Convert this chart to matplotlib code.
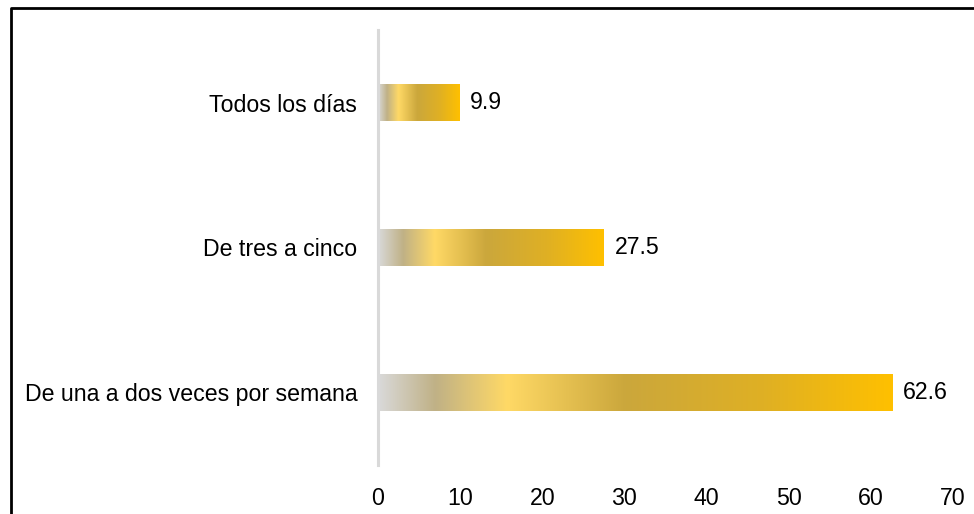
import numpy as np
import matplotlib.pyplot as plt
from matplotlib.colors import LinearSegmentedColormap
from matplotlib.lines import Line2D

plt.rcParams['font.family'] = ['Liberation Sans', 'DejaVu Sans']

# datos
categorias = ['De una a dos veces por semana', 'De tres a cinco', 'Todos los días']
valores = [62.6, 27.5, 9.9]
xticks = [0, 10, 20, 30, 40, 50, 60, 70]

grad = LinearSegmentedColormap.from_list('oro', [
    (0.0, '#d9d9d9'), (0.11, '#c0b186'), (0.25, '#ffd966'),
    (0.48, '#cba73c'), (0.75, '#dfb024'), (1.0, '#ffc000')])

W, H = 974, 514
fig = plt.figure(figsize=(W / 100, H / 100), dpi=100)
ax = fig.add_axes([378 / W, 1 - 465 / H, (953 - 378) / W, (465 - 30) / H])

pos = np.arange(len(categorias))
alto = 0.25
bars = ax.barh(pos, valores, height=alto, color='none', edgecolor='none')
g = np.linspace(0, 1, 256).reshape(1, -1)
for b, v in zip(bars, valores):
    y0 = b.get_y()
    im = ax.imshow(g, cmap=grad, aspect='auto', interpolation='bilinear',
                   extent=(0, v, y0, y0 + alto), zorder=2)
    im.set_clip_path(b)
    ax.text(v + 1.3, b.get_y() + alto / 2, f'{v:.1f}', va='center', ha='left',
            fontsize=16.7, color='black')

ax.set_xlim(0, 70)
ax.set_ylim(-0.5, len(categorias) - 0.5)
ax.set_xticks(xticks)
ax.set_yticks(pos)
ax.set_yticklabels(categorias)
ax.tick_params(axis='both', length=0, labelsize=16.7, colors='black')
ax.tick_params(axis='y', pad=15)
ax.tick_params(axis='x', pad=15.5)
for s in ['top', 'right', 'bottom']:
    ax.spines[s].set_visible(False)
ax.spines['left'].set_color('#d9d9d9')
ax.spines['left'].set_linewidth(2.2)
ax.spines['left'].set_zorder(3)

# marco exterior
xb = 11 / W
yb = 1 - 7.5 / H
fig.add_artist(Line2D([xb, xb, 1], [0, yb, yb], color='black', lw=2,
                      transform=fig.transFigure))

fig.savefig('out.png', dpi=100)
